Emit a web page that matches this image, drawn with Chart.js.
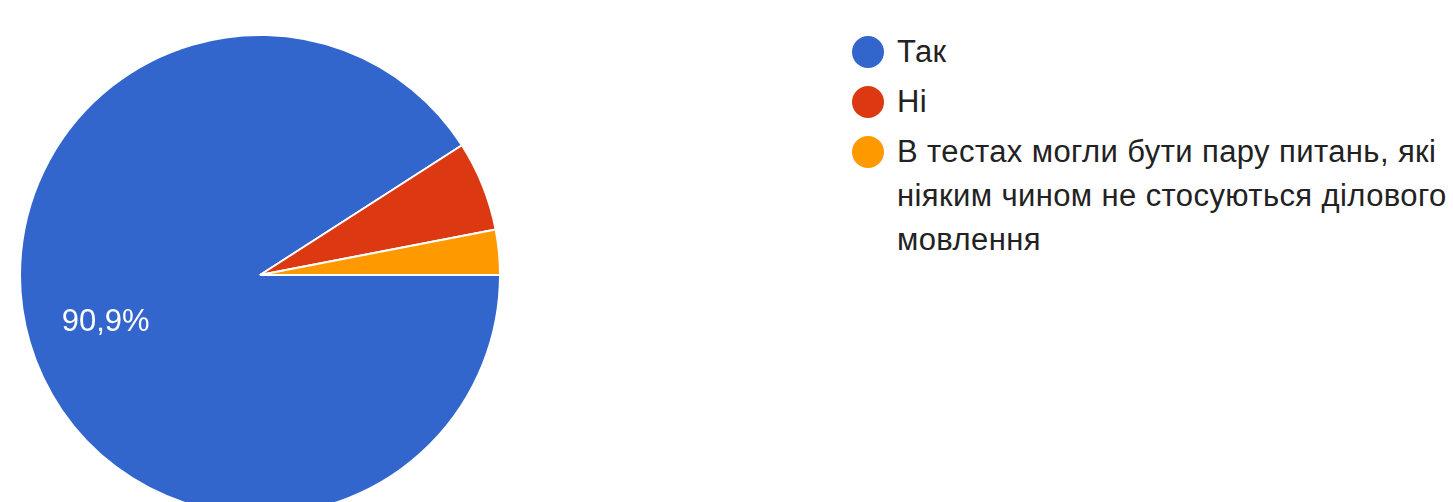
<!DOCTYPE html>
<html>
<head>
<meta charset="utf-8">
<script src="https://cdn.jsdelivr.net/npm/chart.js@4.4.0/dist/chart.umd.min.js"></script>
<style>
  html, body { margin: 0; padding: 0; background: #fff; overflow: hidden; }
  body { width: 1453px; height: 502px; position: relative; font-family: "Liberation Sans", Arial, sans-serif; }
  #pieBox { position: absolute; left: 19px; top: 34px; width: 482px; height: 482px; }
  #legend { position: absolute; left: 852px; top: 30px; }
  .legItem { display: flex; align-items: flex-start; margin-bottom: 6px; }
  .legDot { width: 32px; height: 32px; border-radius: 50%; margin-top: 6px; flex: none; }
  .legText { margin-left: 13px; width: 570px; font-size: 31px; letter-spacing: 0.4px; line-height: 44px; color: #222; }
</style>
</head>
<body>
<div id="pieBox"><canvas id="pieChart"></canvas></div>
<div id="legend"></div>

<script>
// answers of the form
let labels = ["Так", "Ні", "В тестах могли бути пару питань, які ніяким чином не стосуються ділового мовлення"];
let answers = [30, 2, 1];
let colors = ["#3366cc", "#dc3912", "#ff9900"];

// only slices bigger than this get a percent label
let minLabelPct = 10;

let buildLegend = () => {

  let html = "";
  for (let i = 0; i < labels.length; i++) {
    html += '<div class="legItem"><span class="legDot" style="background:' + colors[i] + '"></span>'
         + '<span class="legText">' + labels[i] + '</span></div>';
  }
  document.getElementById('legend').innerHTML = html;
}

let pctLabels = {
  id: 'pctLabels',
  afterDatasetsDraw(chart) {
    const ctx = chart.ctx;
    const total = answers.reduce((a, b) => a + b, 0);
    const arcs = chart.getDatasetMeta(0).data;

    ctx.save();
    ctx.fillStyle = '#fff';
    ctx.font = '31px "Liberation Sans", Arial, sans-serif';
    ctx.textAlign = 'center';
    ctx.textBaseline = 'middle';

    arcs.forEach((arc, i) => {
      let pct = answers[i] / total * 100;
      if (pct < minLabelPct) return;
      let mid = (arc.startAngle + arc.endAngle) / 2;
      let r = arc.outerRadius * 0.67;
      let txt = pct.toFixed(1).replace('.', ',') + '%';
      ctx.fillText(txt, arc.x + Math.cos(mid) * r, arc.y + Math.sin(mid) * r + 2);
    });
    ctx.restore();
  }
};

buildLegend();

const ctx = document.getElementById('pieChart').getContext('2d');
let myChart = new Chart(ctx, {
  type: 'pie',
  data: {
    labels: labels,
    datasets: [{
      data: answers,
      backgroundColor: colors,
      borderColor: '#ffffff',
      borderWidth: 2
    }]
  },
  options: {
    responsive: true,
    maintainAspectRatio: false,
    animation: false,
    rotation: 90,
    layout: { padding: 0 },
    plugins: {
      legend: { display: false },
      tooltip: { enabled: false }
    }
  },
  plugins: [pctLabels]
});
</script>
</body>
</html>
